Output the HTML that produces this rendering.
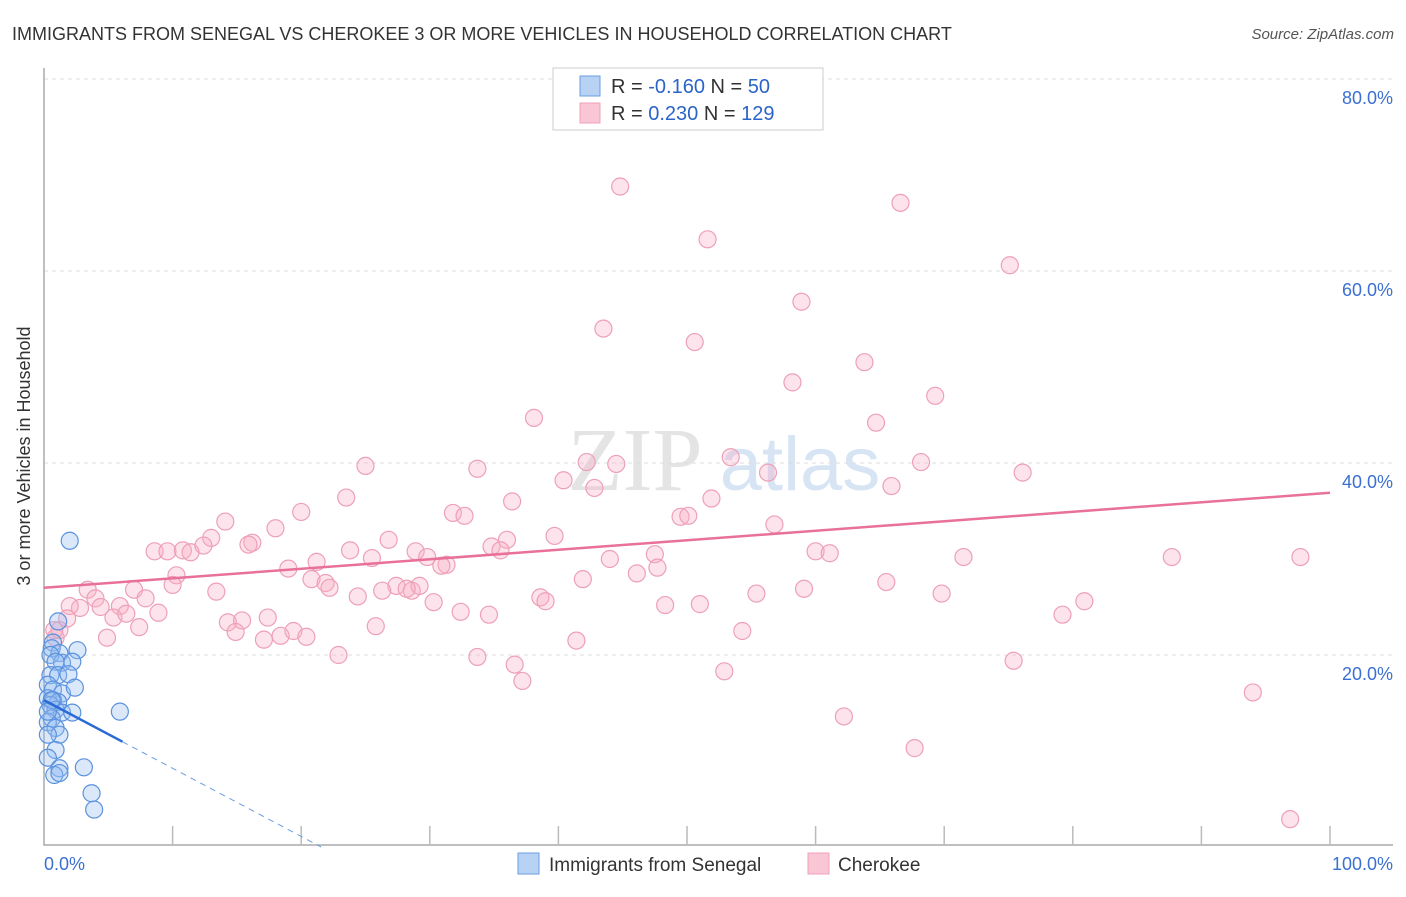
<!DOCTYPE html>
<html><head><meta charset="utf-8"><style>
body{margin:0;background:#fff;font-family:"Liberation Sans",sans-serif;}
</style></head><body>
<svg width="1406" height="892" xmlns="http://www.w3.org/2000/svg" id="chart">
<text x="12" y="40" font-size="18" fill="#333">IMMIGRANTS FROM SENEGAL VS CHEROKEE 3 OR MORE VEHICLES IN HOUSEHOLD CORRELATION CHART</text>
<text x="1394" y="39" font-size="15" fill="#555" text-anchor="end" font-style="italic">Source: ZipAtlas.com</text>
<text x="30" y="456" font-size="18" fill="#333" text-anchor="middle" transform="rotate(-90 30 456)">3 or more Vehicles in Household</text>
<g><text x="635" y="490" font-size="90" fill="#e4e4e4" font-family="Liberation Serif,serif" text-anchor="middle">ZIP</text><text x="800" y="490" font-size="76" fill="#d6e4f4" text-anchor="middle">atlas</text></g>
<g id="grid"></g><g id="axes"></g><g id="marks"></g>
<g>
<rect x="553" y="68" width="270" height="62" fill="#fff" stroke="#ccc"/>
<rect x="580" y="76" width="20" height="20" fill="#b8d2f4" stroke="#6a9de0"/>
<rect x="580" y="103" width="20" height="20" fill="#f9c6d6" stroke="#f0a0b8"/>
<text x="611" y="93" font-size="20" fill="#333">R = <tspan fill="#2a64c8">-0.160</tspan>   N = <tspan fill="#2a64c8">  50</tspan></text>
<text x="611" y="120" font-size="20" fill="#333">R = <tspan fill="#2a64c8"> 0.230</tspan>   N = <tspan fill="#2a64c8">129</tspan></text>
</g>
<g>
<rect x="518" y="853" width="21" height="21" fill="#b8d2f4" stroke="#6a9de0"/>
<text x="549" y="871" font-size="19" fill="#333">Immigrants from Senegal</text>
<rect x="808" y="853" width="21" height="21" fill="#f9c6d6" stroke="#f0a0b8"/>
<text x="838" y="871" font-size="19" fill="#333">Cherokee</text>
</g>
</svg>
<script>
const pinkX=[44.8,66.6,51.6,75.1,58.9,43.5,50.6,63.8,58.2,69.3,38.1,64.7,53.4,42.2,44.5,68.2,25.0,33.7,56.3,76.1,40.4,42.8,65.9,23.5,51.9,36.4,31.8,32.7,20.0,49.5,50.1,14.1,56.8,18.0,13.0,26.8,39.7,36.0,16.2,15.9,8.6,9.6,10.8,11.4,12.4,23.8,28.9,34.8,35.5,60.0,47.5,61.1,71.5,87.7,97.7,21.2,25.5,29.8,44.0,31.3,30.9,10.3,19.0,46.1,47.7,20.8,10.0,21.9,22.2,27.4,28.6,29.2,28.2,41.9,65.5,59.1,3.4,7.0,7.9,13.4,24.4,26.3,38.6,39.0,55.4,69.8,80.9,4.0,4.4,5.9,2.8,2.0,5.4,1.8,6.4,8.9,30.3,48.3,51.0,32.4,34.6,79.2,14.3,15.4,17.4,14.9,18.4,19.4,20.4,25.8,7.4,4.9,17.1,54.3,41.4,22.9,33.7,36.6,37.2,75.4,52.9,94.0,62.2,67.7,96.9,0.9,1.2,0.8];
const pinkY=[68.8,67.1,63.3,60.6,56.8,54.0,52.6,50.5,48.4,47.0,44.7,44.2,40.6,40.1,39.9,40.1,39.7,39.4,39.0,39.0,38.2,37.4,37.6,36.4,36.3,36.0,34.8,34.5,34.9,34.4,34.5,33.9,33.6,33.2,32.2,32.0,32.4,32.0,31.7,31.5,30.8,30.8,30.9,30.7,31.4,30.9,30.8,31.3,30.9,30.8,30.5,30.6,30.2,30.2,30.2,29.7,30.1,30.2,30.0,29.4,29.3,28.3,29.0,28.5,29.1,27.9,27.3,27.5,27.0,27.2,26.7,27.2,26.9,27.9,27.6,26.9,26.8,26.8,25.9,26.6,26.1,26.7,26.0,25.6,26.4,26.4,25.6,25.9,25.0,25.1,24.9,25.1,23.9,23.8,24.3,24.4,25.5,25.2,25.3,24.5,24.2,24.2,23.4,23.6,23.9,22.4,22.0,22.5,21.9,23.0,22.9,21.8,21.6,22.5,21.5,20.0,19.8,19.0,17.3,19.4,18.3,16.1,13.6,10.3,2.9,21.8,22.6,22.6];
const blueX=[2.0,1.1,0.7,0.6,1.2,2.6,0.5,1.4,2.2,0.9,0.5,1.1,1.9,0.3,0.7,1.4,2.4,0.3,0.7,1.1,0.5,0.9,1.4,2.2,5.9,0.6,0.3,0.9,1.2,0.3,0.9,0.3,1.2,0.8,1.2,3.1,3.7,3.9,0.6,0.3];
const blueY=[31.9,23.5,21.3,20.7,20.2,20.5,20.0,19.2,19.3,19.3,17.9,17.9,18.0,16.9,16.4,16.0,16.6,15.5,15.3,15.1,14.8,14.3,14.0,14.0,14.1,13.4,13.0,12.4,11.7,11.7,10.1,9.3,8.2,7.5,7.7,8.3,5.6,3.9,15.3,14.1];
const yTicks=[20,40,60,80];
const yTickLabels=["20.0%","40.0%","60.0%","80.0%"];
const xTicks=[0,10,20,30,40,50,60,70,80,90,100];
const pinkTrend=[27.0,36.9];
const blueTrend=[15.3,-0.71];
const NS="http://www.w3.org/2000/svg";
const sx=v=>44+v*12.86, sy=v=>847-v*9.6;
function mk(t,a,p){const e=document.createElementNS(NS,t);for(const k in a)e.setAttribute(k,a[k]);p.appendChild(e);return e;}
const grid=document.getElementById('grid'),axes=document.getElementById('axes'),marks=document.getElementById('marks');
yTicks.forEach((v,i)=>{
 const l=mk('line',{x1:44,x2:1393,y1:sy(v),y2:sy(v),stroke:'#ddd','stroke-dasharray':'4,4'},grid);
 
 
 const t=mk('text',{x:1393,y:sy(v)+25,'font-size':18,fill:'#3a70d0','text-anchor':'end'},axes);
 t.textContent=yTickLabels[i];
 
 
});
const ax=mk('path',{d:'M44 68 V845 H1393',fill:'none',stroke:'#aaa','stroke-width':1.5},axes);


xTicks.forEach(v=>{if(v===0)return;const l=mk('line',{x1:sx(v),x2:sx(v),y1:826,y2:845,stroke:'#bbb','stroke-width':1.5},axes);
 
 });
[[44,'0.0%','start'],[1393,'100.0%','end']].forEach(a=>{const t=mk('text',{x:a[0],y:870,'font-size':18,fill:'#3a70d0','text-anchor':a[2]},axes);t.textContent=a[1];
 
 });
pinkX.forEach((x,i)=>{const c=mk('circle',{cx:sx(x),cy:sy(pinkY[i]),r:8.5,fill:'rgba(248,175,198,0.35)',stroke:'#eda0b8','stroke-width':1.2},marks);
 
 });
blueX.forEach((x,i)=>{const c=mk('circle',{cx:sx(x),cy:sy(blueY[i]),r:8.5,fill:'rgba(150,190,240,0.35)',stroke:'#5b92de','stroke-width':1.2},marks);
 
 });
const pt=mk('line',{x1:sx(0),y1:sy(pinkTrend[0]),x2:sx(100),y2:sy(pinkTrend[1]),stroke:'#e8709a','stroke-width':2.5},marks);


const bt=mk('line',{x1:sx(0),y1:sy(blueTrend[0]),x2:sx(6.1),y2:sy(blueTrend[0]+blueTrend[1]*6.1),stroke:'#2a6ad6','stroke-width':2.5},marks);


const xe=-blueTrend[0]/blueTrend[1];
const bd=mk('line',{x1:sx(6.1),y1:sy(blueTrend[0]+blueTrend[1]*6.1),x2:sx(xe),y2:sy(0),stroke:'#6a9de0','stroke-width':1,'stroke-dasharray':'6,5'},marks);


</script>
</body></html>
